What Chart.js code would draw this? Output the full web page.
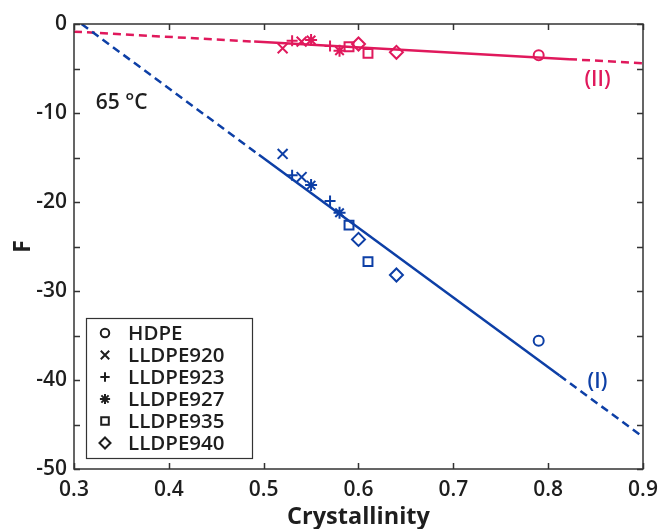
<!DOCTYPE html>
<html>
<head>
<meta charset="utf-8">
<script src="https://cdn.jsdelivr.net/npm/chart.js@4.4.1/dist/chart.umd.min.js"></script>
<style>
  html, body { margin: 0; padding: 0; background: #fff; }
  #wrap { width: 660px; height: 529px; }
</style>
</head>
<body>
<div id="wrap"><canvas id="chart"></canvas></div>
<script>
// --- data ---
const materials = ['HDPE', 'LLDPE920', 'LLDPE923', 'LLDPE927', 'LLDPE935', 'LLDPE940'];
const markers = ['circle', 'crossRot', 'cross', 'star', 'rect', 'rectRot'];

// crystallinity of each sample
const crystHDPE = [0.79];
const cryst920 = [0.52, 0.54];
const cryst923 = [0.53, 0.57];
const cryst927 = [0.55, 0.58];
const cryst935 = [0.59, 0.61];
const cryst940 = [0.60, 0.64];

// F values, regime (I) (blue)
const fI_HDPE = [-35.6];
const fI_920 = [-14.6, -17.2];
const fI_923 = [-17.0, -19.9];
const fI_927 = [-18.1, -21.2];
const fI_935 = [-22.6, -26.7];
const fI_940 = [-24.2, -28.2];

// F values, regime (II) (red)
const fII_HDPE = [-3.5];
const fII_920 = [-2.73, -1.98];
const fII_923 = [-1.87, -2.47];
const fII_927 = [-1.80, -3.0];
const fII_935 = [-2.55, -3.3];
const fII_940 = [-2.25, -3.18];

// fit lines: dashed - solid - dashed
const lineIX = [0.308, 0.495, 0.812, 0.9];
const lineIY = [0, -14.7, -39.5, -46.4];
const lineIIX = [0.3, 0.49, 0.822, 0.9];
const lineIIY = [-0.86, -1.98, -3.95, -4.42];

const xTicks = [0.3, 0.4, 0.5, 0.6, 0.7, 0.8, 0.9];
const yTicks = [0, -10, -20, -30, -40, -50];

const BLUE = '#0d3fa6';
const RED = '#e0195c';
const INK = '#1e1e1e';
const FONT = '"Open Sans", "DejaVu Sans", sans-serif';

const crystAll = [crystHDPE, cryst920, cryst923, cryst927, cryst935, cryst940];
const fIAll = [fI_HDPE, fI_920, fI_923, fI_927, fI_935, fI_940];
const fIIAll = [fII_HDPE, fII_920, fII_923, fII_927, fII_935, fII_940];
const markerSize = [5, 7, 5.5, 6, 6.3, 6.5];

function pts(xs, ys) {
    return xs.map((x, i) => ({ x: x, y: ys[i] }));
}

const datasets = [];

// fit lines with segment dashes
function fitLine(xs, ys, color) {
    return {
        type: 'line',
        data: pts(xs, ys),
        borderColor: color,
        borderWidth: 2.5,
        pointRadius: 0,
        fill: false,
        tension: 0,
        segment: {
            borderDash: ctx => (ctx.p0DataIndex === 1 ? [] : [8, 5])
        }
    };
}
datasets.push(fitLine(lineIX, lineIY, BLUE));
datasets.push(fitLine(lineIIX, lineIIY, RED));

materials.forEach((m, i) => {
    datasets.push({
        type: 'scatter',
        label: m + ' (I)',
        data: pts(crystAll[i], fIAll[i]),
        pointStyle: markers[i],
        pointRadius: markerSize[i],
        pointBorderWidth: 2,
        borderColor: BLUE,
        backgroundColor: 'rgba(0,0,0,0)'
    });
    datasets.push({
        type: 'scatter',
        label: m + ' (II)',
        data: pts(crystAll[i], fIIAll[i]),
        pointStyle: markers[i],
        pointRadius: markerSize[i],
        pointBorderWidth: 2,
        borderColor: RED,
        backgroundColor: 'rgba(0,0,0,0)'
    });
});

// frame + inward ticks, annotations, legend box
const decorPlugin = {
    id: 'decor',
    afterDraw(chart) {
        const ctx = chart.ctx;
        const a = chart.chartArea;
        const xs = chart.scales.x, ys = chart.scales.y;
        ctx.save();
        ctx.strokeStyle = '#333';
        ctx.lineWidth = 1.5;
        ctx.strokeRect(a.left, a.top, a.right - a.left, a.bottom - a.top);

        ctx.beginPath();
        xs.ticks.forEach(t => {
            const px = Math.round(xs.getPixelForValue(t.value)) + 0.5;
            ctx.moveTo(px, a.bottom); ctx.lineTo(px, a.bottom - 6);
            ctx.moveTo(px, a.top); ctx.lineTo(px, a.top + 6);
        });
        ys.ticks.forEach(t => {
            const py = Math.round(ys.getPixelForValue(t.value)) + 0.5;
            ctx.moveTo(a.left, py); ctx.lineTo(a.left + 6, py);
            ctx.moveTo(a.right, py); ctx.lineTo(a.right - 6, py);
        });
        ctx.stroke();

        // text labels
        ctx.textBaseline = 'middle';
        ctx.font = '600 21px ' + FONT;
        ctx.fillStyle = INK;
        ctx.textAlign = 'left';
        ctx.fillText('65 °C', xs.getPixelForValue(0.323), ys.getPixelForValue(-8.9));
        ctx.textAlign = 'center';
        ctx.fillStyle = RED;
        ctx.fillText('(II)', xs.getPixelForValue(0.852), ys.getPixelForValue(-6.3));
        ctx.fillStyle = BLUE;
        ctx.fillText('(I)', xs.getPixelForValue(0.852), ys.getPixelForValue(-40.2));

        // legend
        const lx = a.left + 12, ly = a.bottom - 151, lw = 166, lh = 140;
        ctx.fillStyle = '#fff';
        ctx.fillRect(lx, ly, lw, lh);
        ctx.strokeStyle = '#333';
        ctx.lineWidth = 1.2;
        ctx.strokeRect(lx + 0.5, ly + 0.5, lw, lh);
        ctx.textAlign = 'left';
        ctx.font = '600 20.5px ' + FONT;
        materials.forEach((m, i) => {
            const cy = ly + 15 + i * 22;
            ctx.strokeStyle = INK;
            ctx.fillStyle = 'rgba(0,0,0,0)';
            ctx.lineWidth = 2;
            Chart.helpers.drawPoint(ctx, {
                pointStyle: markers[i],
                radius: markerSize[i] * 0.85,
                rotation: 0,
                borderWidth: 2
            }, lx + 19, cy);
            ctx.fillStyle = INK;
            ctx.fillText(m, lx + 42, cy + 1);
        });
        ctx.restore();
    }
};

new Chart(document.getElementById('chart'), {
    data: { datasets: datasets },
    options: {
        responsive: true,
        maintainAspectRatio: false,
        animation: false,
        layout: { padding: { top: 24, right: 17, left: 0, bottom: 0 } },
        plugins: {
            legend: { display: false },
            tooltip: { enabled: false }
        },
        scales: {
            x: {
                type: 'linear',
                min: 0.3,
                max: 0.9,
                afterBuildTicks: s => { s.ticks = xTicks.map(v => ({ value: v })); },
                afterFit: s => { s.height = 60; s.paddingLeft = 0; s.paddingRight = 0; },
                grid: { display: false, drawTicks: false },
                border: { display: false },
                ticks: {
                    padding: 8,
                    color: INK,
                    font: { family: FONT, size: 21, weight: '600' },
                    callback: v => v.toFixed(1)
                },
                title: {
                    display: true,
                    text: 'Crystallinity',
                    color: INK,
                    font: { family: FONT, size: 23.5, weight: 'bold' },
                    padding: { top: 0, bottom: -2 }
                }
            },
            y: {
                type: 'linear',
                min: -50,
                max: 0,
                afterBuildTicks: s => {
                    const t = [];
                    for (let v = 0; v >= -50; v -= 5) t.push({ value: v });
                    s.ticks = t;
                },
                afterFit: s => { s.width = 74; s.paddingTop = 0; s.paddingBottom = 0; },
                grid: { display: false, drawTicks: false },
                border: { display: false },
                ticks: {
                    padding: 7,
                    color: INK,
                    font: { family: FONT, size: 21, weight: '600' },
                    callback: v => (yTicks.includes(v) ? String(v) : '')
                },
                title: {
                    display: true,
                    text: 'F',
                    color: INK,
                    font: { family: FONT, size: 23, weight: 'bold' },
                    padding: { top: 10, bottom: 0 }
                }
            }
        }
    },
    plugins: [decorPlugin]
});
</script>
</body>
</html>
